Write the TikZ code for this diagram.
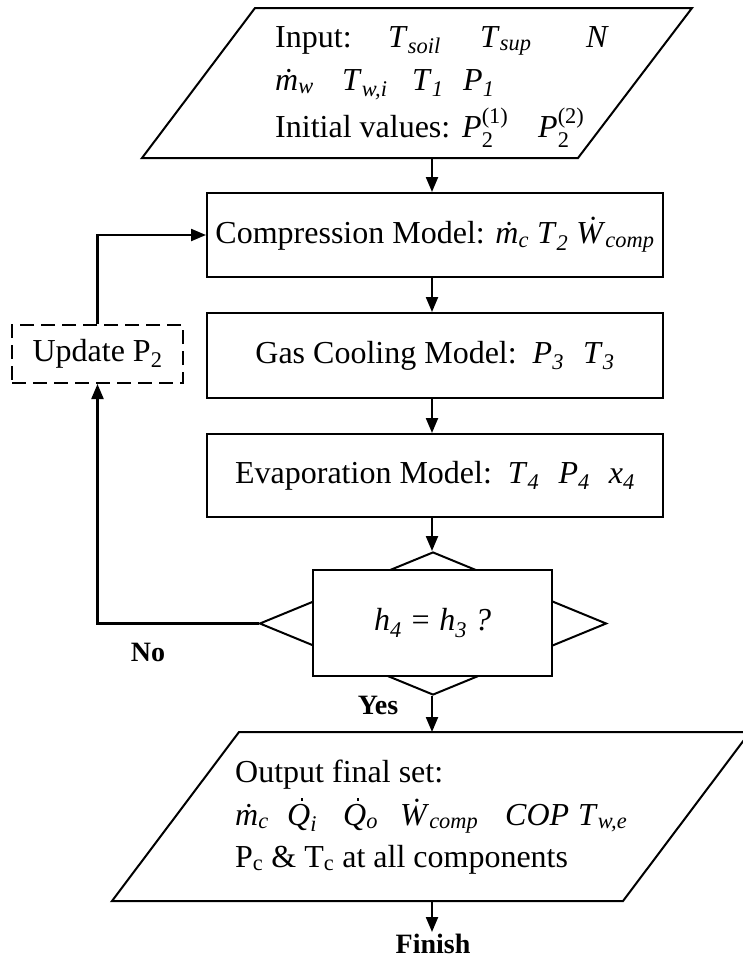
\documentclass[tikz,border=0pt]{standalone}
\usepackage{amsmath}
\usepackage{fontspec}
\setmainfont{Liberation Serif}
\usetikzlibrary{arrows.meta,shapes.geometric}
% italic variable with italic subscript
\newcommand\iv[2]{\textit{#1}\textsubscript{\textit{#2}}}
% dotted capital Q (no precomposed glyph): small square dot over an italic Q
\newcommand\dotQ{\rlap{\kern0.42em\smash{\raisebox{0.76em}{\rule{2.8pt}{2.8pt}}}}\textit{Q}}
% P_2 with a bracketed upper index
\newcommand\ptwo[1]{\(\text{\textit{P}}_{\text{2}}^{\text{(#1)}}\)}
\begin{document}
\begin{tikzpicture}[x=1pt,y=-1pt,
  box/.style={draw, line width=2pt, fill=white, minimum width=456pt,
    inner sep=0pt, font=\fontsize{32}{38}\selectfont},
  flow/.style={line width=2.2pt, -{Triangle[length=15pt,width=12pt]}},
  lbl/.style={inner sep=0pt, font=\fontsize{28}{32}\selectfont\bfseries},
  ptxt/.style={anchor=base west, inner sep=0pt, font=\fontsize{32}{38}\selectfont},
  para/.style={draw, line width=2pt}]
\useasboundingbox (0,0) rectangle (743,964);

% input parallelogram
\draw[para] (255,8) -- (692,8) -- (578,158) -- (142,158) -- cycle;
\coordinate (inS) at (432,158);
\node[ptxt] (in1a) at (275,47) {Input:};
\node[ptxt] (in1b) at (388,47) {\iv{T}{soil}};
\node[ptxt] (in1c) at (480,47) {\iv{T}{sup}};
\node[ptxt] (in1d) at (586,47) {\textit{N}};
\node[ptxt] (in2a) at (275,90) {\iv{\.{m}}{w}};
\node[ptxt] (in2b) at (342,90) {\iv{T}{w,i}};
\node[ptxt] (in2c) at (412,90) {\iv{T}{1}};
\node[ptxt] (in2d) at (463,90) {\iv{P}{1}};
\node[ptxt] (in3a) at (275,137) {Initial values:};
\node[ptxt] (in3b) at (462,137) {\ptwo{1}};
\node[ptxt] (in3c) at (538,137) {\ptwo{2}};

% model boxes
\node[box, minimum height=84pt] (comp) at (435,235)
  {Compression Model: \iv{\.{m}}{c} \iv{T}{2} \iv{\.{W}}{comp}};
\node[box, minimum height=85pt] (gas) at (435,355.5)
  {Gas Cooling Model:\hspace{0.5em}\iv{P}{3}\hspace{0.6em}\iv{T}{3}};
\node[box, minimum height=83pt] (evap) at (435,475.5)
  {Evaporation Model:\hspace{0.5em}\iv{T}{4}\hspace{0.6em}\iv{P}{4}\hspace{0.6em}\iv{x}{4}};

% decision: diamond behind a rectangle
\node[diamond, draw, line width=2pt, minimum width=347pt, minimum height=143pt,
  inner sep=0pt] (dia) at (433,623.5) {};
\node[box, minimum width=239pt, minimum height=106pt] (dec) at (432.5,623)
  {\textit{h\textsubscript{4} = h\textsubscript{3} ?}};

% update box
\node[draw, line width=2pt, dash pattern=on 14pt off 7pt, minimum width=171pt,
  minimum height=58pt, inner sep=0pt, font=\fontsize{32}{38}\selectfont]
  (upd) at (97.5,354) {Update P\textsubscript{2}};

% output parallelogram
\draw[para] (239,732) -- (750,732) -- (623,901) -- (112,901) -- cycle;
\coordinate (outN) at (433,732);
\coordinate (outS) at (433,901);
\node[ptxt] (out1) at (235,782) {Output final set:};
\node[ptxt] (out2a) at (235,825) {\iv{\.{m}}{c}};
\node[ptxt] (out2b) at (287,825) {\iv{\dotQ}{i}};
\node[ptxt] (out2c) at (343,825) {\iv{\dotQ}{o}};
\node[ptxt] (out2d) at (400,825) {\iv{\.{W}}{comp}};
\node[ptxt] (out2e) at (505,825) {\textit{COP}};
\node[ptxt] (out2f) at (578,825) {\iv{T}{w,e}};
\node[ptxt] (out3) at (235,867) {P\textsubscript{c} \& T\textsubscript{c} at all components};

% labels
\node[lbl] (no) at (148,652) {No};
\node[lbl] (yes) at (378,705) {Yes};
\node[lbl, anchor=north, inner sep=2pt] (fin) at (433,932) {Finish};

% connectors
\draw[flow] (inS) -- (comp.north -| inS);
\draw[flow] (comp.south -| inS) -- (gas.north -| inS);
\draw[flow] (gas.south -| inS) -- (evap.north -| inS);
\draw[flow] (evap.south -| inS) -- (dia.north -| inS);
\draw[flow] (dia.south -| inS) -- (outN -| inS);
\draw[flow] (outS -| inS) -- (fin.north -| inS);
\draw[flow] (dia.west) -| (upd.south);
\draw[flow] (upd.north) |- (comp.west);
\end{tikzpicture}
\end{document}
